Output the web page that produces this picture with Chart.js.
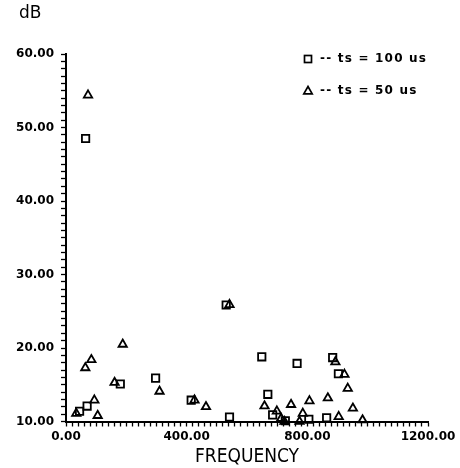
<!DOCTYPE html>
<html>
<head>
<meta charset="utf-8">
<script src="https://cdn.jsdelivr.net/npm/chart.js@4/dist/chart.umd.min.js"></script>
<style>
html,body{margin:0;padding:0;background:#fff;}
#wrap{width:460px;height:468px;}
</style>
</head>
<body>
<div id="wrap"><canvas id="c" width="460" height="468"></canvas></div>
<script>
// ts = 100 us (squares)
const freq100 = [45, 65, 70, 180, 297, 415, 531, 542, 649, 669, 685, 727, 766, 805, 864, 884, 903];
const dB100   = [11.4, 48.5, 12.1, 15.1, 15.9, 12.9, 25.85, 10.6, 18.8, 13.7, 10.9, 10.1, 17.9, 10.3, 10.5, 18.7, 16.5];
// ts = 50 us (triangles)
const freq50 = [34, 64, 73, 84, 94, 105, 161, 188, 310, 426, 464, 542, 658, 699, 713, 724, 746, 774, 785, 807, 868, 893, 904, 923, 934, 951, 983];
const dB50   = [11.1, 17.3, 54.4, 18.4, 12.9, 10.8, 15.3, 20.5, 14.1, 12.9, 12.0, 25.9, 12.1, 11.4, 10.4, 10.0, 12.3, 10.0, 11.1, 12.8, 13.2, 18.1, 10.65, 16.4, 14.5, 11.8, 10.2];
const seriesLabels = ['-- ts = 100 us', '-- ts = 50 us'];
const xTickLabels = [0, 400, 800, 1200];
const yTickLabels = [10, 20, 30, 40, 50, 60];
const xTitle = 'FREQUENCY';
const yTitle = 'dB';

const toPts = (xs, ys) => xs.map((x, i) => ({x: x, y: ys[i]}));
const tickFont = {family: 'DejaVu Sans', size: 12, weight: 'bold'};

const extras = {
  id: 'extras',
  afterDraw(chart) {
    const ctx = chart.ctx;
    ctx.save();
    ctx.fillStyle = '#000';
    ctx.strokeStyle = '#000';
    // y title
    ctx.font = '17px "DejaVu Sans"';
    ctx.textBaseline = 'middle';
    ctx.textAlign = 'left';
    ctx.fillText(yTitle, 19, 14);
    // legend
    ctx.font = 'bold 12px "DejaVu Sans"';
    try { ctx.letterSpacing = '1.2px'; } catch (e) {}
    ctx.lineWidth = 1.7;
    const lx = 308, ly = [59, 91];
    // square
    ctx.strokeRect(lx - 3.5, ly[0] - 3.5, 7, 7);
    ctx.fillText(seriesLabels[0], lx + 12, ly[0]);
    // triangle
    ctx.beginPath();
    ctx.moveTo(lx, ly[1] - 4.5);
    ctx.lineTo(lx + 4.2, ly[1] + 2.8);
    ctx.lineTo(lx - 4.2, ly[1] + 2.8);
    ctx.closePath();
    ctx.stroke();
    ctx.fillText(seriesLabels[1], lx + 12, ly[1]);
    ctx.restore();
  }
};

new Chart(document.getElementById('c'), {
  type: 'scatter',
  data: {
    datasets: [
      {label: seriesLabels[0], data: toPts(freq100, dB100), pointStyle: 'rect', pointRadius: 5.2,
       borderColor: '#000', backgroundColor: 'rgba(0,0,0,0)', borderWidth: 1.8, clip: false},
      {label: seriesLabels[1], data: toPts(freq50, dB50), pointStyle: 'triangle', pointRadius: 4.8,
       borderColor: '#000', backgroundColor: 'rgba(0,0,0,0)', borderWidth: 1.8, clip: false}
    ]
  },
  options: {
    responsive: false,
    animation: false,
    devicePixelRatio: 1,
    layout: {padding: {left: 0, top: 54, right: 32, bottom: 0}},
    plugins: {legend: {display: false}, tooltip: {enabled: false}},
    scales: {
      x: {
        type: 'linear', min: 0, max: 1200,
        border: {display: true, color: '#000', width: 2},
        grid: {drawOnChartArea: false, drawTicks: true, tickLength: 5, tickColor: '#000', tickWidth: 1.3},
        ticks: {
          stepSize: 20, autoSkip: false, maxRotation: 0, color: '#000', padding: 3, font: tickFont,
          callback: v => xTickLabels.includes(v) ? v.toFixed(2) : ''
        },
        title: {display: true, text: xTitle, color: '#000', font: {family: 'DejaVu Sans Condensed, DejaVu Sans', size: 19}, padding: {top: 0, bottom: 0}},
        afterFit: s => { s.height = 468 - 421.5; }
      },
      y: {
        type: 'linear', min: 10, max: 60,
        border: {display: true, color: '#000', width: 2},
        grid: {drawOnChartArea: false, drawTicks: true, tickLength: 5, tickColor: '#000', tickWidth: 1.3},
        ticks: {
          stepSize: 1, autoSkip: false, color: '#000', padding: 7, font: tickFont,
          callback: v => yTickLabels.includes(v) ? v.toFixed(2) : ''
        },
        afterFit: s => { s.width = 66; }
      }
    }
  },
  plugins: [extras]
});
</script>
</body>
</html>
